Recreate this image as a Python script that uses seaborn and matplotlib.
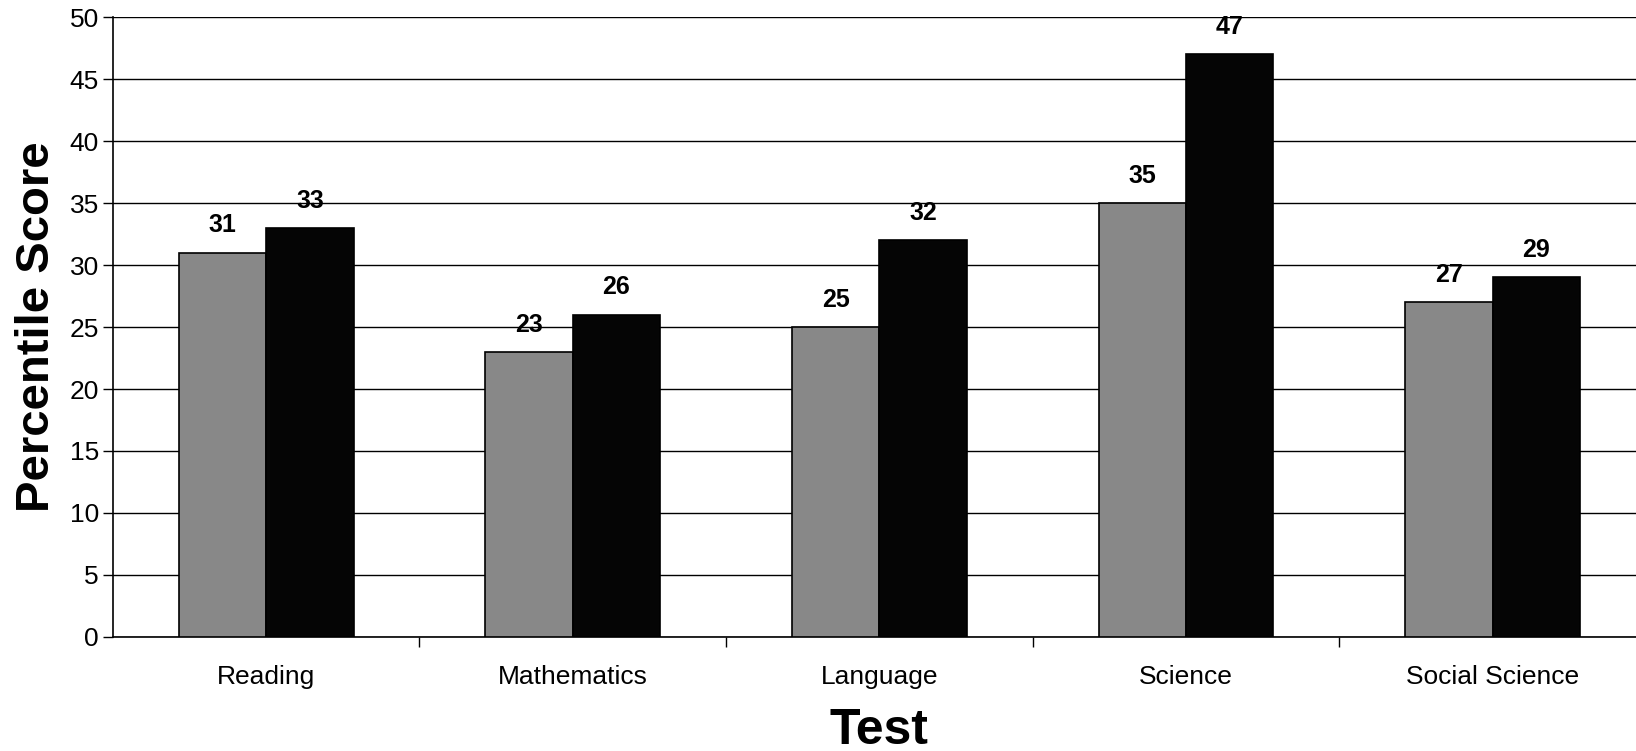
import pandas as pd
import matplotlib.pyplot as plt
import seaborn as sns
from matplotlib.ticker import FixedLocator

# values
tests = ['Reading', 'Mathematics', 'Language', 'Science', 'Social Science']
group_a = [31, 23, 25, 35, 27]   # grey speckled bars
group_b = [33, 26, 32, 47, 29]   # black bars

data = pd.DataFrame({
    'Test': tests * 2,
    'Score': group_a + group_b,
    'Group': ['A'] * len(tests) + ['B'] * len(tests),
})

sns.set_style('white')
plt.rcParams['font.family'] = ['Liberation Sans', 'DejaVu Sans']
plt.rcParams['text.color'] = 'black'
plt.rcParams['axes.labelcolor'] = 'black'
plt.rcParams['xtick.color'] = 'black'
plt.rcParams['ytick.color'] = 'black'

fig = plt.figure(figsize=(16.36, 7.51), dpi=100)
# plot area runs off the right edge, like the scan
ax = fig.add_axes([0.069, 0.152, 0.937, 0.825])

sns.barplot(data=data, x='Test', y='Score', hue='Group',
            palette=['#888888', '#050505'], width=0.57,
            edgecolor='black', linewidth=1.2, legend=False, ax=ax, zorder=3)

# value labels above bars
for cont in ax.containers:
    ax.bar_label(cont, fmt='%d', padding=11, fontsize=18, fontweight='bold')

ax.set_ylim(0, 50)
ax.set_xlim(-0.5, 4.5)
ax.set_yticks(range(0, 51, 5))
ax.yaxis.grid(True, color='black', linewidth=1.0, zorder=0)
ax.set_axisbelow(True)

ax.tick_params(axis='y', labelsize=19, length=7, width=1, left=True, pad=3)
ax.tick_params(axis='x', which='major', labelsize=19, length=0, pad=20)
ax.xaxis.set_minor_locator(FixedLocator([0.5, 1.5, 2.5, 3.5]))
ax.tick_params(axis='x', which='minor', length=7, width=1, bottom=True)

for side in ['top', 'right']:
    ax.spines[side].set_visible(False)
for side in ['left', 'bottom']:
    ax.spines[side].set_color('black')
    ax.spines[side].set_linewidth(1.2)

ax.set_ylabel('Percentile Score', fontsize=34, fontweight='bold', labelpad=8)
ax.set_xlabel('Test', fontsize=36, fontweight='bold', labelpad=14)

fig.savefig('out.png', dpi=100)
